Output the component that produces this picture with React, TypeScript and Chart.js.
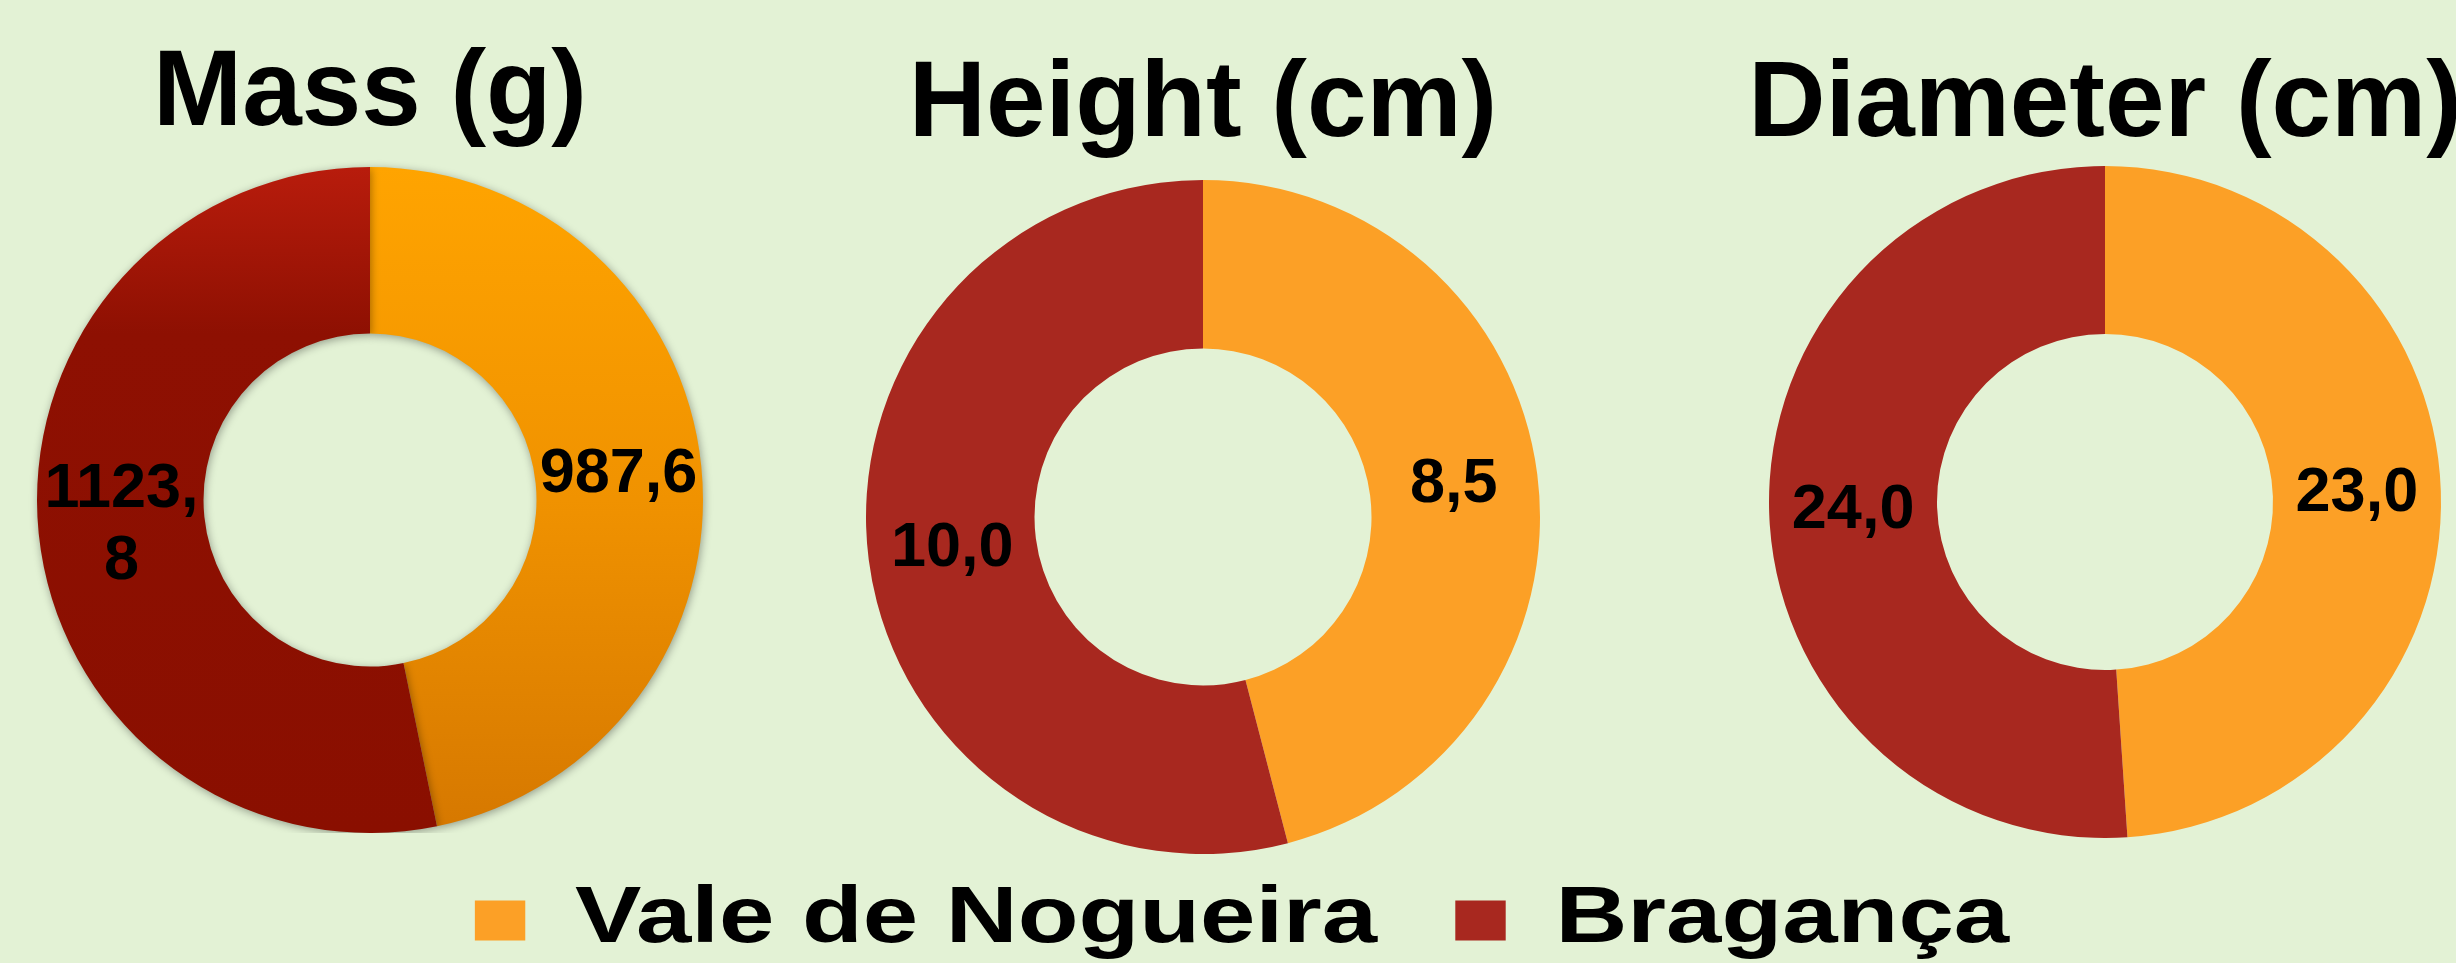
import React, { useEffect, useRef } from 'react';
import { Chart, registerables } from 'chart.js';

Chart.register(...registerables);

// ---------- data ----------
const seriesLabels = ['Vale de Nogueira', 'Bragança'];
const chartTitles = ['Mass (g)', 'Height (cm)', 'Diameter (cm)'];
const massValues = [987.6, 1123.8];
const heightValues = [8.5, 10.0];
const diameterValues = [23.0, 24.0];

// ---------- styles ----------
const BG = '#E3F2D5';
const ORANGE = '#FCA026';
const RED = '#A8281F';
const FONT = "'Liberation Sans', Arial, Helvetica, sans-serif";
const TITLE_SIZE = 107;

const fmt = (v: number) => v.toFixed(1).replace('.', ',');

const valueLabels = {
  id: 'valueLabels',
  beforeDatasetsDraw(chart: any, _args: any, opts: any) {
    if (opts.shadow) {
      const c = chart.ctx;
      c.save();
      c.shadowColor = 'rgba(0,0,0,0.35)';
      c.shadowBlur = 8;
      c.shadowOffsetX = 1;
      c.shadowOffsetY = 2;
    }
  },
  afterDatasetsDraw(chart: any, _args: any, opts: any) {
    const ctx = chart.ctx;
    if (opts.shadow) ctx.restore();
    const meta = chart.getDatasetMeta(0);
    const data = chart.data.datasets[0].data as number[];
    ctx.save();
    ctx.font = `bold ${opts.size}px ${FONT}`;
    ctx.fillStyle = '#000';
    ctx.textAlign = 'center';
    ctx.textBaseline = 'middle';
    meta.data.forEach((arc: any, i: number) => {
      const p = arc.tooltipPosition(false);
      const text = fmt(data[i]);
      let lines = [text];
      if (ctx.measureText(text).width > opts.maxWidth) {
        const k = text.indexOf(',') + 1;
        lines = [text.slice(0, k), text.slice(k)];
      }
      lines.forEach((ln, j) => {
        ctx.fillText(ln, p.x, p.y + (j - (lines.length - 1) / 2) * opts.lineHeight);
      });
    });
    ctx.restore();
  },
};

function massColor(c: any) {
  const chart = c.chart;
  const area = chart.chartArea;
  const idx = c.dataIndex;
  if (!area) return idx === 0 ? ORANGE : RED;
  const g = chart.ctx.createLinearGradient(0, area.top, 0, area.bottom);
  if (idx === 0) {
    g.addColorStop(0, '#FFA400');
    g.addColorStop(0.5, '#F09200');
    g.addColorStop(1, '#D67800');
  } else {
    g.addColorStop(0, '#B81C0C');
    g.addColorStop(0.25, '#8E1002');
    g.addColorStop(1, '#8A0F00');
  }
  return g;
}

type DonutCfg = {
  title: string;
  values: number[];
  left: number;
  top: number;
  width: number;
  height: number;
  padTop: number;
  padBottom: number;
  gradient?: boolean;
};

const donuts: DonutCfg[] = [
  { title: chartTitles[0], values: massValues, left: 20, top: 0, width: 700, height: 833, padTop: 41.5, padBottom: 18.5, gradient: true },
  { title: chartTitles[1], values: heightValues, left: 853, top: 0, width: 700, height: 854, padTop: 52.5, padBottom: 20.5 },
  { title: chartTitles[2], values: diameterValues, left: 1745, top: 0, width: 720, height: 838, padTop: 52.5, padBottom: 6.5 },
];

function Donut({ cfg }: { cfg: DonutCfg }) {
  const ref = useRef<HTMLCanvasElement>(null);
  useEffect(() => {
    if (!ref.current) return;
    const chart = new Chart(ref.current, {
      type: 'doughnut',
      data: {
        labels: seriesLabels,
        datasets: [
          {
            data: cfg.values,
            backgroundColor: cfg.gradient ? (massColor as any) : [ORANGE, RED],
            borderWidth: 0,
            hoverBorderWidth: 0,
            hoverOffset: 0,
            offset: 0,
          } as any,
        ],
      },
      options: {
        responsive: false,
        animation: false,
        devicePixelRatio: 1,
        cutout: '50%',
        events: [],
        layout: { padding: 0 },
        plugins: {
          legend: { display: false },
          tooltip: { enabled: false },
          title: {
            display: true,
            text: cfg.title,
            color: '#000',
            font: { family: FONT, size: TITLE_SIZE, weight: 'bold', lineHeight: 1 },
            padding: { top: cfg.padTop, bottom: cfg.padBottom },
          },
          valueLabels: { size: 63, maxWidth: 175, lineHeight: 72, shadow: !!cfg.gradient },
        } as any,
      },
      plugins: [valueLabels],
    });
    return () => chart.destroy();
  }, []);
  return (
    <canvas
      ref={ref}
      width={cfg.width}
      height={cfg.height}
      style={{ position: 'absolute', left: cfg.left, top: cfg.top, width: cfg.width, height: cfg.height }}
    />
  );
}

const LEGEND_STRETCH = 1.26;
const stretchPlugin = {
  id: 'stretch',
  beforeDraw(chart: any) {
    const ctx = chart.ctx;
    ctx.save();
    const cx = chart.width / 2;
    ctx.translate(cx, 0);
    ctx.scale(LEGEND_STRETCH, 1);
    ctx.translate(-cx, 0);
  },
  afterDraw(chart: any) {
    chart.ctx.restore();
  },
};

function Legend() {
  const ref = useRef<HTMLCanvasElement>(null);
  const W = 1600;
  const H = 500;
  useEffect(() => {
    if (!ref.current) return;
    const chart = new Chart(ref.current, {
      type: 'bar',
      data: {
        labels: [],
        datasets: [
          { label: seriesLabels[0], data: [], backgroundColor: ORANGE, borderWidth: 0 },
          { label: seriesLabels[1], data: [], backgroundColor: RED, borderWidth: 0 },
        ],
      },
      options: {
        responsive: false,
        animation: false,
        devicePixelRatio: 1,
        events: [],
        layout: { padding: 0 },
        scales: { x: { display: false }, y: { display: false } },
        plugins: {
          tooltip: { enabled: false },
          title: { display: false },
          legend: {
            display: true,
            position: 'top',
            align: 'center',
            labels: {
              color: '#000',
              font: { family: FONT, size: 79, weight: 'bold' },
              boxWidth: 40,
              boxHeight: 40,
              padding: 62,
            },
          },
        },
      },
      plugins: [stretchPlugin],
    });
    return () => chart.destroy();
  }, []);
  return (
    <canvas
      ref={ref}
      width={W}
      height={H}
      style={{ position: 'absolute', left: 1242 - W / 2, top: 819, width: W, height: H }}
    />
  );
}

export default function App() {
  return (
    <div
      style={{
        position: 'fixed',
        left: 0,
        top: 0,
        width: 2456,
        height: 963,
        background: BG,
        overflow: 'hidden',
      }}
    >
      {donuts.map((d) => (
        <Donut key={d.title} cfg={d} />
      ))}
      <Legend />
    </div>
  );
}
